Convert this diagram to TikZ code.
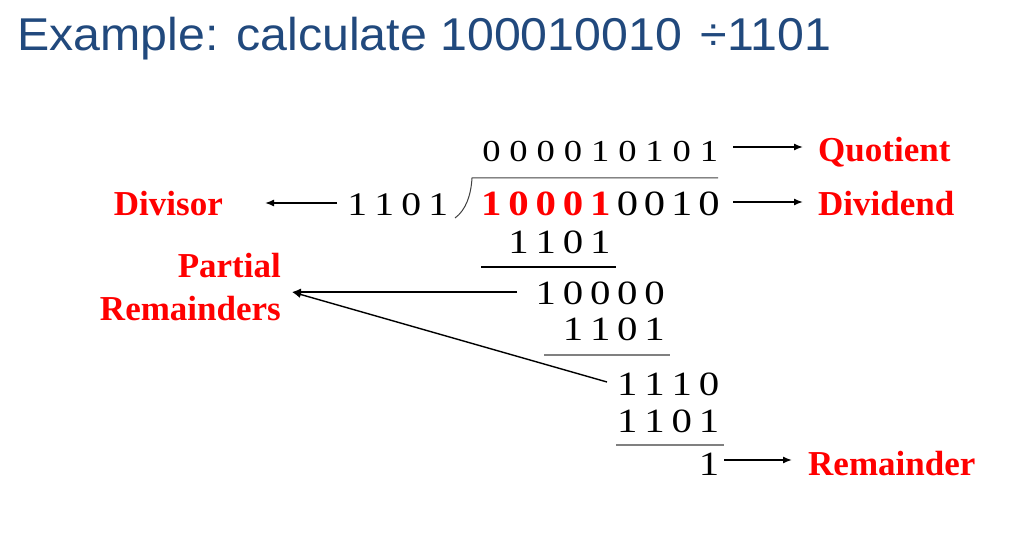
\documentclass[tikz,border=0pt]{standalone}
\usepackage{fontspec}
\usepackage{graphicx}
\setmainfont{Liberation Serif}
\newfontfamily\titlefont{Liberation Sans}
\usetikzlibrary{arrows.meta}
\definecolor{titleblue}{RGB}{33,73,125}
\definecolor{linegray}{RGB}{128,128,128}
\newcommand\dg[1]{\makebox[27.2pt]{\scalebox{1.2}[1]{#1}}}
\newcommand\dgd[1]{\makebox[27pt]{\scalebox{1.2}[1]{#1}}}
\newcommand\rd[1]{\makebox[27.2pt]{\scalebox{1.15}[1]{\textbf{\color{red}#1}}}}
\begin{document}
\begin{tikzpicture}[x=1pt,y=-1pt,
  num/.style={inner sep=0pt, anchor=base west, font=\fontsize{34}{40}\selectfont},
  lbl/.style={inner sep=0pt, text=red, font=\fontsize{35}{43}\selectfont\bfseries},
  arr/.style={line width=1.4pt, -{Latex[length=9pt,width=7pt]}},
  rulebar/.style={line width=1.4pt}]
\useasboundingbox (0,0) rectangle (1036,540);
% title
\node[inner sep=0pt, anchor=base west, text=titleblue,
      font=\titlefont\fontsize{46}{50}\selectfont] (title) at (17,51)
      {\scalebox{1.05}[1]{Example: calculate 100010010 \hspace{5pt}÷1101}};
% digit rows
\node[num, font=\fontsize{30.5}{36}\selectfont] (quot) at (477.6,161.5) {\dg0\dg0\dg0\dg0\dg1\dg0\dg1\dg0\dg1};
\node[num, font=\fontsize{35.5}{42}\selectfont] (dvd) at (477.6,216) {\rd1\rd0\rd0\rd0\rd1\dg0\dg0\dg1\dg0};
\node[num, font=\fontsize{33}{38}\selectfont] (dvs) at (343.5,216) {\dgd1\dgd1\dgd0\dgd1};
\node[num] (s1) at (504.8,253) {\dg1\dg1\dg0\dg1};
\node[num] (r1) at (532,304) {\dg1\dg0\dg0\dg0\dg0};
\node[num] (s2) at (559.2,340) {\dg1\dg1\dg0\dg1};
\node[num] (r2) at (613.6,395) {\dg1\dg1\dg1\dg0};
\node[num] (s3) at (613.6,432) {\dg1\dg1\dg0\dg1};
\node[num] (rem) at (695.2,475) {\dg1};
% rules
\draw[rulebar] (481,267) -- (616,267);
\draw[rulebar, linegray] (544,355) -- (670,355);
\draw[rulebar, linegray] (616,445) -- (724,445);
\draw[line width=1pt, black!75] (455,218) .. controls (466,210) and (471,195) .. (472,178) -- (718,178);
% labels
\node[lbl, anchor=base west] (qlab) at (818,162) {Quotient};
\node[lbl, anchor=base west] (dlab) at (818,216) {Dividend};
\node[lbl, anchor=base east] (vlab) at (223,215) {Divisor};
\node[lbl, anchor=east, align=right] (plab) at (281,286.7) {Partial\\Remainders};
\node[lbl, anchor=base west] (rlab) at (808,475) {Remainder};
% arrows
\draw[arr, shorten <=10.6pt, shorten >=15pt] ([yshift=14.5pt]quot.base east) -- ([yshift=15pt]qlab.base west);
\draw[arr, shorten <=10.6pt, shorten >=15pt] ([yshift=14pt]dvd.base east) -- ([yshift=14pt]dlab.base west);
\draw[arr, shorten <=6.5pt, shorten >=42pt] ([yshift=13pt]dvs.base west) -- ([yshift=12pt]vlab.base east);
\draw[arr] ([xshift=-15pt,yshift=12pt]r1.base west) -- ([xshift=11pt,yshift=-5.3pt]plab.east);
\draw[arr] ([xshift=-6.6pt,yshift=13pt]r2.base west) -- ([xshift=11pt,yshift=-5.3pt]plab.east);
\draw[arr, shorten <=1.6pt, shorten >=16pt] ([yshift=15pt]rem.base east) -- ([yshift=15pt]rlab.base west);
\end{tikzpicture}
\end{document}
